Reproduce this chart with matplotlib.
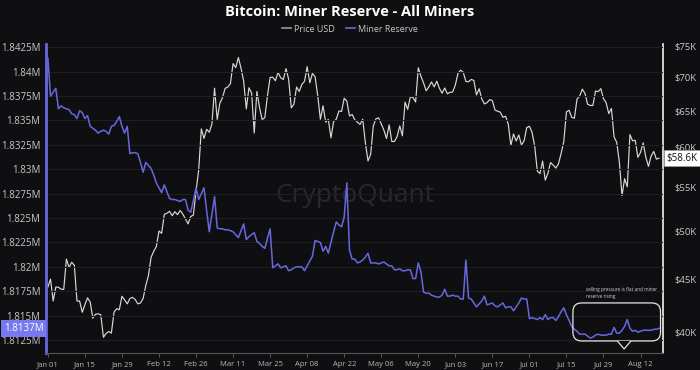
import numpy as np
import pandas as pd
import matplotlib
matplotlib.use("Agg")
import matplotlib.pyplot as plt
import matplotlib.transforms as mtransforms
from matplotlib.lines import Line2D
from matplotlib.patches import FancyBboxPatch, Polygon
from matplotlib.ticker import FixedLocator, NullLocator
import matplotlib.dates as mdates

plt.rcParams['font.family'] = ['Open Sans', 'DejaVu Sans']

# daily BTC price (thousand USD), Jan 01 -> Aug 19
price_jan = [44.18, 44.95, 42.85, 44.18, 44.16, 43.97, 43.95, 46.97, 46.12, 46.65,
             46.34, 42.85, 42.84, 41.80, 42.51, 43.15, 42.74, 41.26, 41.62, 41.66,
             41.58, 39.57, 39.90, 40.08, 39.93, 41.82, 42.12, 42.04, 43.30, 42.95, 42.58]
price_feb = [43.08, 43.19, 42.99, 42.58, 42.66, 43.08, 44.32, 45.30, 47.15, 47.77,
             48.29, 49.96, 49.70, 51.81, 51.94, 52.16, 51.66, 52.12, 51.78, 52.26,
             51.84, 51.30, 50.74, 51.57, 51.73, 54.52, 57.09, 62.50, 61.20]
price_mar = [62.44, 62.03, 63.17, 68.33, 63.80, 66.11, 66.93, 68.30, 68.50, 69.02,
             72.12, 71.48, 73.08, 71.40, 69.40, 65.30, 68.39, 67.61, 61.94, 67.84,
             65.49, 63.78, 64.06, 67.23, 69.96, 69.99, 69.45, 70.74, 69.89, 69.65, 71.33]
price_apr = [69.70, 65.45, 65.97, 68.51, 67.84, 68.90, 69.36, 71.63, 69.14, 70.59,
             70.06, 67.20, 63.82, 65.74, 63.42, 63.81, 61.28, 63.51, 63.84, 64.99,
             64.93, 66.84, 66.41, 64.29, 64.50, 63.76, 63.42, 63.11, 63.84, 60.64]
price_may = [58.25, 59.12, 62.89, 63.89, 64.03, 63.16, 62.33, 61.19, 63.05, 60.79,
             60.79, 61.45, 62.90, 61.55, 66.27, 65.23, 67.05, 66.94, 66.28, 71.45,
             70.14, 69.12, 67.93, 68.53, 69.27, 68.52, 69.39, 68.30, 67.58, 68.36, 67.49]
price_jun = [67.71, 67.75, 68.80, 70.57, 71.08, 70.76, 69.34, 69.30, 69.65, 69.50,
             67.32, 68.24, 66.75, 66.01, 66.19, 66.64, 66.49, 65.14, 64.96, 64.83,
             64.10, 64.25, 63.18, 60.28, 61.80, 60.86, 61.67, 60.32, 60.89, 62.68]
price_jul = [62.85, 62.03, 60.17, 56.98, 56.66, 58.23, 55.85, 56.71, 58.05, 57.72,
             57.34, 57.90, 59.23, 60.79, 64.87, 65.10, 64.10, 63.97, 66.71, 67.16,
             68.19, 67.55, 65.97, 65.79, 65.78, 67.91, 67.81, 68.26, 66.78, 66.19, 64.62]
price_aug = [65.36, 61.42, 60.68, 58.12, 53.99, 56.03, 55.03, 61.71, 60.88, 60.95,
             58.71, 59.35, 60.61, 58.74, 57.56, 58.88, 59.48, 58.48, 58.60]

# miner reserve (million BTC), same days
reserve = [1.8414, 1.8375, 1.8379, 1.8383, 1.8362, 1.8365, 1.8363, 1.8362, 1.8361, 1.8357,
           1.8356, 1.8352, 1.8360, 1.8358, 1.8352, 1.8355, 1.8344, 1.8342, 1.8340, 1.8337,
           1.8339, 1.8340, 1.8339, 1.8336, 1.8344, 1.8345, 1.8349, 1.8354, 1.8344, 1.8337,
           1.8344, 1.8316, 1.8317, 1.8317, 1.8316, 1.8307, 1.8297, 1.8307, 1.8304, 1.8301,
           1.8294, 1.8286, 1.8281, 1.8276, 1.8284, 1.8277, 1.8270, 1.8269, 1.8269, 1.8268,
           1.8267, 1.8269, 1.8269, 1.8258, 1.8256, 1.8268, 1.8281, 1.8269, 1.8275, 1.8281,
           1.8258, 1.8236, 1.8254, 1.8272, 1.8240, 1.8239, 1.8239, 1.8238, 1.8238, 1.8237,
           1.8236, 1.8233, 1.8230, 1.8237, 1.8244, 1.8228, 1.8231, 1.8233, 1.8235, 1.8226,
           1.8224, 1.8221, 1.8219, 1.8229, 1.8239, 1.8199, 1.8201, 1.8203, 1.8199, 1.8200,
           1.8201, 1.8196, 1.8197, 1.8199, 1.8200, 1.8200, 1.8200, 1.8196, 1.8201, 1.8206,
           1.8211, 1.8227, 1.8226, 1.8225, 1.8216, 1.8221, 1.8214, 1.8225, 1.8236, 1.8246,
           1.8243, 1.8241, 1.8251, 1.8286, 1.8217, 1.8208, 1.8208, 1.8204, 1.8205, 1.8207,
           1.8210, 1.8214, 1.8204, 1.8204, 1.8204, 1.8203, 1.8204, 1.8205, 1.8203, 1.8201,
           1.8201, 1.8197, 1.8197, 1.8198, 1.8196, 1.8196, 1.8197, 1.8197, 1.8188, 1.8188,
           1.8204, 1.8195, 1.8174, 1.8173, 1.8173, 1.8171, 1.8170, 1.8169, 1.8169, 1.8171,
           1.8177, 1.8170, 1.8170, 1.8171, 1.8170, 1.8170, 1.8167, 1.8167, 1.8207, 1.8168,
           1.8167, 1.8163, 1.8159, 1.8162, 1.8165, 1.8170, 1.8161, 1.8162, 1.8163, 1.8160,
           1.8159, 1.8161, 1.8163, 1.8158, 1.8159, 1.8159, 1.8155, 1.8159, 1.8163, 1.8168,
           1.8167, 1.8167, 1.8147, 1.8148, 1.8147, 1.8146, 1.8148, 1.8146, 1.8151, 1.8146,
           1.8148, 1.8148, 1.8145, 1.8149, 1.8154, 1.8158, 1.8151, 1.8145, 1.8139, 1.8136,
           1.8134, 1.8131, 1.8131, 1.8131, 1.8129, 1.8127, 1.8128, 1.8130, 1.8131, 1.8130,
           1.8130, 1.8130, 1.8131, 1.8131, 1.8138, 1.8132, 1.8132, 1.8135, 1.8139, 1.8146,
           1.8137, 1.8134, 1.8135, 1.8133, 1.8134, 1.8135, 1.8135, 1.8135, 1.8135, 1.8136,
           1.8136, 1.8137]

price = np.array(price_jan + price_feb + price_mar + price_apr + price_may
                 + price_jun + price_jul + price_aug)
reserve = np.array(reserve)
dates = pd.date_range("2024-01-01", periods=len(price), freq="D")

reserve_ticks = [1.8125, 1.815, 1.8175, 1.82, 1.8225, 1.825, 1.8275, 1.83,
                 1.8325, 1.835, 1.8375, 1.84, 1.8425]
price_ticks = [40, 45, 50, 55, 60, 65, 70, 75]
note = "selling pressure is flat and miner\nreserve rising"

bg = "#0f0f12"
blue = "#6767e0"
grey = "#d8d8d8"
txt = "#c8c8c8"

fig = plt.figure(figsize=(7, 3.7), dpi=100, facecolor=bg)
ax = fig.add_axes([46 / 700, 17 / 370, 617 / 700, 309 / 370])
ax2 = ax.twinx()
ax.set_zorder(2)
ax2.set_zorder(1)
ax.patch.set_visible(False)
ax2.patch.set_facecolor(bg)
ax2.patch.set_visible(True)

# price (right, log scale)
ax2.plot(dates, price, color=grey, lw=0.85)
ax2.set_yscale("log")
ax2.set_ylim(38.23, 75.28)
ax2.yaxis.set_major_locator(FixedLocator(price_ticks))
ax2.yaxis.set_minor_locator(NullLocator())
ax2.set_yticklabels([f"${t}K" for t in price_ticks])

# miner reserve (left)
ax.plot(dates, reserve, color=blue, lw=1.1)
ax.set_ylim(1.81117, 1.84284)
ax.set_yticks(reserve_ticks)
ax.set_yticklabels([f"{round(t, 4):g}M" for t in reserve_ticks])
ax.grid(axis="y", color="#1e1e23", lw=0.8)
ax.set_axisbelow(True)

ax.set_xlim(dates[0] - pd.Timedelta(hours=17), dates[0] + pd.Timedelta(days=232.5))
ax.set_xticks(pd.date_range("2024-01-01", "2024-08-12", freq="14D"))
ax.xaxis.set_major_formatter(mdates.DateFormatter("%b %d"))

for a in (ax, ax2):
    for s in a.spines.values():
        s.set_visible(False)
ax.spines["left"].set_visible(True)
ax.spines["left"].set_color(blue)
ax.spines["left"].set_linewidth(2)
ax2.spines["right"].set_visible(True)
ax2.spines["right"].set_color("#e0e0e0")
ax2.spines["right"].set_linewidth(1.3)
ax.spines["bottom"].set_visible(True)
ax.spines["bottom"].set_color("#555555")
ax.spines["bottom"].set_linewidth(0.8)

ax.tick_params(axis="y", length=0, pad=4, labelsize=7, labelcolor=txt)
ax2.tick_params(axis="y", length=0, pad=8, labelsize=6.8, labelcolor=txt)
ax.tick_params(axis="x", length=3, color="#555555", pad=3, labelsize=5.5, labelcolor="#b8b8b8")

# watermark
ax.text(0.5, 0.51, "CryptoQuant", transform=ax.transAxes, ha="center", va="center",
        fontsize=19, color="#28282e", zorder=0)

# last-value labels
tl = mtransforms.blended_transform_factory(ax.transAxes, ax.transData)
ax.text(-0.004, reserve[-1], f"{reserve[-1]:.4f}M", transform=tl, ha="right", va="center",
        fontsize=7, color="white", clip_on=False,
        bbox=dict(boxstyle="square,pad=0.3", fc="#7878f0", ec="none"))
tr = mtransforms.blended_transform_factory(ax2.transAxes, ax2.transData)
ax2.text(1.006, price[-1], f"${price[-1]:.1f}K", transform=tr, ha="left", va="center",
         fontsize=7, color="#111111", clip_on=False, zorder=10,
         bbox=dict(boxstyle="square,pad=0.25", fc="white", ec="#999999", lw=0.6))

# annotation bubble
box = FancyBboxPatch((0.854, 0.039), 0.142, 0.123, transform=ax.transAxes,
                     boxstyle="round,pad=0,rounding_size=0.014", mutation_aspect=2.0,
                     fc="none", ec="#e6e6e6", lw=0.9, zorder=5, clip_on=False)
ax.add_patch(box)
ptr = Polygon([(0.926, 0.039), (0.937, 0.013), (0.948, 0.039)], closed=False,
              transform=ax.transAxes, fc=bg, ec="#e6e6e6", lw=0.9, zorder=6, clip_on=False)
ax.add_patch(ptr)
ax.text(0.875, 0.212, note, transform=ax.transAxes, ha="left", va="top",
        fontsize=3.4, color="#cfcfcf", linespacing=1.3, zorder=6)

fig.text(0.5, 1 - 12 / 370, "Bitcoin: Miner Reserve - All Miners", ha="center", va="center",
         fontsize=10.5, fontweight="bold", color="white")
handles = [Line2D([], [], color="#9a9a9a", lw=1.2), Line2D([], [], color=blue, lw=1.2)]
fig.legend(handles, ["Price USD", "Miner Reserve"], loc="center", ncol=2,
           bbox_to_anchor=(0.5, 1 - 29 / 370), frameon=False, fontsize=6.5,
           labelcolor=txt, handlelength=1.0, handletextpad=0.4, columnspacing=1.2)

fig.savefig("out.png", dpi=100, facecolor=bg)
